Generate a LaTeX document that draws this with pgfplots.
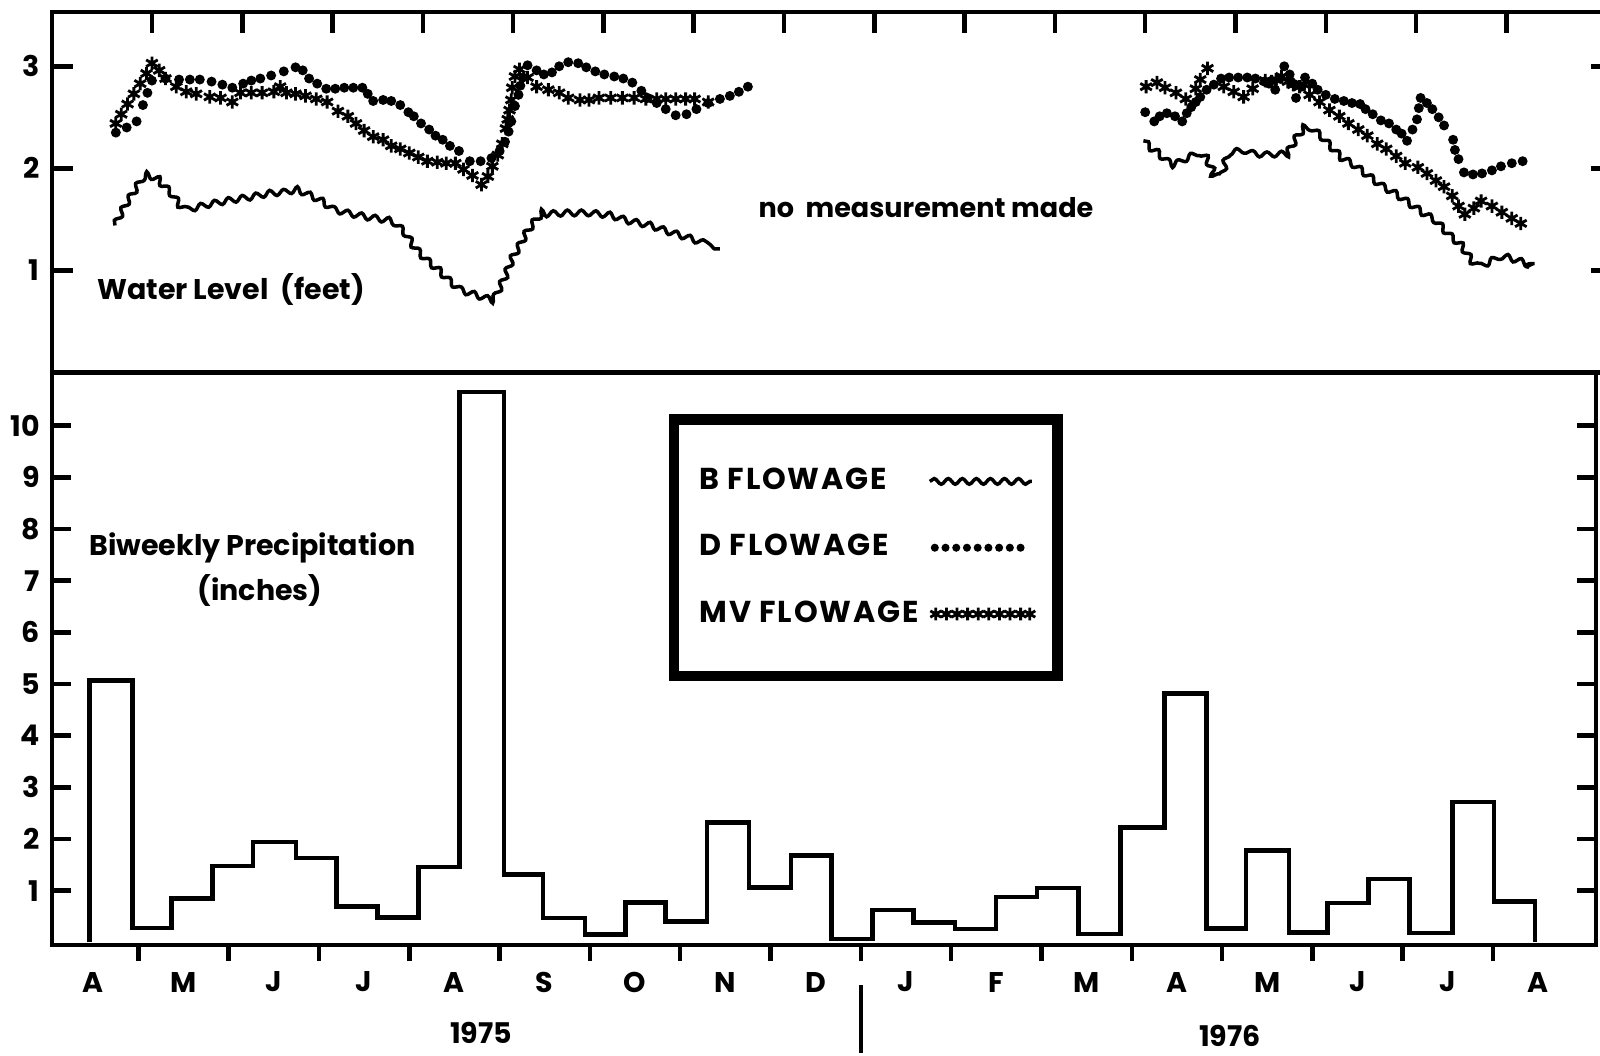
\documentclass[border=0pt]{standalone}
\usepackage{fontspec}
\setmainfont{Poppins}
\usepackage{pgfplots}
\pgfplotsset{compat=1.18}
\usetikzlibrary{decorations.pathmorphing}
\newcommand\lf{\fontsize{8.1}{9}\selectfont\bfseries}
\newcommand\nf{\fontsize{7.7}{9}\selectfont\bfseries}
\newcommand\gf{\fontsize{8.6}{9}\selectfont\bfseries\addfontfeatures{LetterSpace=6}}
\begin{document}
\begin{tikzpicture}
% ---------------- top panel: water level ----------------
\begin{axis}[
  at={(0.52cm,6.826cm)}, anchor=south west,
  width=15.60cm, height=3.602cm, scale only axis,
  xmin=-0.107, xmax=17.17, ymin=0, ymax=3.53,
  axis line style={line width=1.3pt},
  tick align=inside,
  xtick={1,2,3,4,5,6,7,8,9,10,11,12,13,14,15,16}, xticklabels={}, xtick pos=right,
  ytick={1,2,3}, ytick pos=both, yticklabel pos=left,
  major tick length=0.21cm,
  tick style={black, line width=1.3pt},
  tick label style={font=\lf},
  /pgf/number format/assume math mode=true,
]
% B flowage 1975
\addplot[black, line width=1pt, decorate, decoration={snake, amplitude=0.8pt, segment length=4pt}] coordinates {
(0.59,1.44) (0.64,1.53) (0.72,1.66) (0.80,1.77) (0.87,1.87) (0.95,1.92) (1.04,1.89) (1.13,1.79)
(1.23,1.70) (1.31,1.60) (1.40,1.54) (1.58,1.58) (1.81,1.62) (2.03,1.65) (2.26,1.69) (2.42,1.70)
(2.59,1.73) (2.72,1.68) (2.86,1.62) (3.00,1.53) (3.17,1.49) (3.34,1.46) (3.57,1.43) (3.68,1.39)
(3.77,1.31) (3.85,1.20) (3.94,1.10) (4.03,1.02) (4.14,0.94) (4.25,0.84) (4.36,0.76) (4.48,0.72)
(4.62,0.68) (4.73,0.65) (4.82,0.73) (4.90,0.88) (4.99,1.08) (5.07,1.20) (5.16,1.35) (5.24,1.45)
(5.33,1.54) (5.44,1.51) (5.67,1.52) (5.90,1.52) (6.13,1.50) (6.35,1.44) (6.58,1.40) (6.81,1.33)
(7.03,1.27) (7.23,1.21) (7.29,1.21)};
% B flowage 1976
\addplot[black, line width=1pt, decorate, decoration={snake, amplitude=0.8pt, segment length=4pt}] coordinates {
(11.98,2.27) (12.04,2.22) (12.11,2.18) (12.21,2.10) (12.31,2.05) (12.38,2.07) (12.46,2.11) (12.56,2.15)
(12.63,2.10) (12.69,2.00) (12.72,1.87) (12.77,1.85) (12.80,1.95) (12.84,2.07) (12.92,2.08) (13.03,2.04)
(13.15,2.03) (13.26,2.04) (13.38,2.04) (13.46,2.16) (13.53,2.27) (13.61,2.36) (13.70,2.36) (13.78,2.30)
(13.86,2.22) (13.99,2.10) (14.15,2.02) (14.30,1.92) (14.45,1.82) (14.61,1.74) (14.76,1.65) (14.92,1.55)
(15.07,1.47) (15.22,1.33) (15.37,1.22) (15.47,1.09) (15.53,1.05) (15.64,1.09) (15.75,1.14) (15.87,1.13)
(15.98,1.10) (16.10,1.06) (16.25,1.03)};
% D flowage 1975
\addplot[black, only marks, mark=*, mark size=1.2pt] coordinates {
(0.60,2.35) (0.72,2.40) (0.83,2.46) (0.90,2.62) (0.95,2.74) (1.00,2.86) (1.15,2.88) (1.30,2.87)
(1.42,2.87) (1.53,2.87) (1.66,2.85) (1.78,2.82) (1.89,2.79) (2.01,2.83) (2.10,2.86) (2.20,2.88)
(2.32,2.91) (2.46,2.95) (2.59,2.99) (2.67,2.96) (2.74,2.88) (2.83,2.83) (2.93,2.78) (3.03,2.78)
(3.13,2.79) (3.23,2.79) (3.33,2.79) (3.39,2.73) (3.45,2.66) (3.56,2.67) (3.65,2.66) (3.75,2.62)
(3.84,2.55) (3.90,2.51) (3.98,2.44) (4.07,2.38) (4.14,2.32) (4.22,2.28) (4.30,2.22) (4.40,2.17)
(4.52,2.07) (4.64,2.07) (4.76,2.10) (4.85,2.17) (4.91,2.26) (4.95,2.36) (4.98,2.46) (5.02,2.61)
(5.06,2.72) (5.08,2.81) (5.11,2.89) (5.16,3.01) (5.26,2.96) (5.34,2.92) (5.43,2.94) (5.51,3.00)
(5.61,3.04) (5.72,3.03) (5.81,2.99) (5.91,2.95) (6.01,2.92) (6.12,2.90) (6.22,2.88) (6.32,2.84)
(6.42,2.76) (6.49,2.69) (6.59,2.64) (6.69,2.58) (6.80,2.52) (6.92,2.53) (7.03,2.58) (7.16,2.64)
(7.29,2.68) (7.40,2.71) (7.50,2.75) (7.60,2.80)};
% D flowage 1976
\addplot[black, only marks, mark=*, mark size=1.2pt] coordinates {
(12.00,2.55) (12.10,2.46) (12.16,2.51) (12.24,2.54) (12.33,2.51) (12.41,2.46) (12.46,2.54) (12.51,2.60)
(12.56,2.65) (12.61,2.70) (12.68,2.77) (12.76,2.82) (12.84,2.88) (12.93,2.89) (13.03,2.89) (13.13,2.89)
(13.22,2.88) (13.32,2.85) (13.37,2.83) (13.44,2.77) (13.49,2.88) (13.54,3.00) (13.60,2.92) (13.64,2.83)
(13.67,2.69) (13.73,2.80) (13.77,2.89) (13.85,2.83) (13.91,2.77) (14.00,2.72) (14.10,2.68) (14.20,2.66)
(14.29,2.64) (14.38,2.63) (14.44,2.58) (14.52,2.53) (14.61,2.47) (14.70,2.44) (14.78,2.38) (14.84,2.34)
(14.90,2.27) (14.96,2.38) (15.01,2.48) (15.03,2.59) (15.05,2.69) (15.12,2.64) (15.18,2.58) (15.25,2.50)
(15.31,2.42) (15.41,2.28) (15.43,2.18) (15.47,2.09) (15.53,1.96) (15.63,1.94) (15.73,1.95) (15.84,1.98)
(15.94,2.02) (16.06,2.05) (16.18,2.07)};
% MV flowage 1975
\addplot[black, only marks, mark=asterisk, mark size=1.9pt, mark options={line width=0.8pt}] coordinates {
(0.60,2.44) (0.66,2.53) (0.73,2.63) (0.80,2.73) (0.87,2.83) (0.94,2.93) (1.00,3.03) (1.08,2.96)
(1.15,2.88) (1.27,2.80) (1.38,2.75) (1.49,2.73) (1.64,2.70) (1.76,2.69) (1.89,2.65) (1.98,2.74)
(2.10,2.74) (2.22,2.74) (2.35,2.75) (2.42,2.80) (2.49,2.74) (2.59,2.73) (2.70,2.71) (2.82,2.68)
(2.94,2.65) (3.06,2.56) (3.17,2.51) (3.26,2.44) (3.35,2.37) (3.45,2.31) (3.56,2.28) (3.65,2.22)
(3.75,2.19) (3.85,2.15) (3.95,2.11) (4.05,2.07) (4.16,2.06) (4.26,2.05) (4.36,2.05) (4.45,1.99)
(4.55,1.93) (4.65,1.84) (4.72,1.92) (4.77,2.02) (4.83,2.13) (4.88,2.24) (4.92,2.39) (4.94,2.48)
(4.96,2.57) (4.98,2.67) (4.99,2.79) (5.02,2.90) (5.07,2.97) (5.16,2.89) (5.26,2.80) (5.39,2.77)
(5.51,2.74) (5.61,2.69) (5.74,2.67) (5.84,2.67) (5.95,2.69) (6.08,2.69) (6.21,2.69) (6.34,2.69)
(6.47,2.68) (6.59,2.68) (6.69,2.68) (6.80,2.68) (6.91,2.68) (7.01,2.68) (7.16,2.65)};
% MV flowage 1976
\addplot[black, only marks, mark=asterisk, mark size=1.9pt, mark options={line width=0.8pt}] coordinates {
(12.01,2.80) (12.13,2.84) (12.22,2.79) (12.34,2.74) (12.45,2.68) (12.56,2.78) (12.61,2.87) (12.69,2.98)
(12.87,2.80) (12.98,2.75) (13.09,2.70) (13.19,2.78) (13.33,2.86) (13.40,2.85) (13.45,2.87) (13.51,2.90)
(13.58,2.85) (13.64,2.82) (13.71,2.80) (13.76,2.82) (13.82,2.72) (13.93,2.65) (14.04,2.57) (14.15,2.51)
(14.25,2.44) (14.36,2.38) (14.46,2.32) (14.57,2.24) (14.67,2.19) (14.78,2.12) (14.88,2.05) (15.02,2.01)
(15.12,1.95) (15.22,1.88) (15.31,1.82) (15.40,1.73) (15.47,1.63) (15.54,1.55) (15.64,1.61) (15.72,1.68)
(15.84,1.63) (15.95,1.57) (16.06,1.51) (16.16,1.46)};
\end{axis}
% ---------------- bottom panel: precipitation ----------------
\begin{axis}[
  at={(0.52cm,1.10cm)}, anchor=south west,
  width=15.44cm, height=5.726cm, scale only axis,
  xmin=0.045, xmax=17.14, ymin=-0.05, ymax=11.03,
  axis line style={line width=1.3pt},
  tick align=inside,
  xtick={0.5,1.5,2.5,3.5,4.5,5.5,6.5,7.5,8.5,9.5,10.5,11.5,12.5,13.5,14.5,15.5,16.5},
  xticklabels={A,M,J,J,A,S,O,N,D,J,F,M,A,M,J,J,A},
  major x tick style={draw=none},
  minor xtick={1,2,3,4,5,6,7,8,9,10,11,12,13,14,15,16},
  minor tick length=0.16cm,
  minor x tick style={yshift=-0.16cm, line width=1.3pt, black},
  xtick pos=left,
  xticklabel style={anchor=center, yshift=-0.37cm},
  ytick={1,2,3,4,5,6,7,8,9,10}, ytick pos=both, yticklabel pos=left,
  major tick length=0.19cm,
  tick style={black, line width=1.3pt},
  tick label style={font=\lf},
  /pgf/number format/assume math mode=true,
  clip=false,
  legend style={at={(rel axis cs:0.3995,0.927)}, anchor=north west, draw=black, line width=3pt,
    inner xsep=0.22cm, inner ysep=0.45cm, row sep=0.325cm, column sep=0.06cm, font=\gf,
    nodes={inner sep=1pt}},
  legend cell align=left, legend plot pos=right,
]
\addplot[const plot, black, line width=1.3pt, mark=none, forget plot] coordinates {
(0.463,0) (0.463,5.07) (0.938,0.28) (1.367,0.85) (1.819,1.48) (2.271,1.94) (2.746,1.63) (3.198,0.70)
(3.650,0.48) (4.102,1.46) (4.554,10.65) (5.051,1.32) (5.480,0.47) (5.944,0.15) (6.395,0.77) (6.836,0.40)
(7.299,2.32) (7.763,1.06) (8.226,1.68) (8.678,0.07) (9.130,0.63) (9.582,0.39) (10.045,0.26) (10.497,0.88)
(10.949,1.05) (11.412,0.16) (11.876,2.22) (12.362,4.82) (12.825,0.27) (13.266,1.78) (13.740,0.19) (14.169,0.76)
(14.621,1.23) (15.073,0.18) (15.548,2.72) (16.011,0.79) (16.463,0)};
\addlegendimage{legend image code/.code={\draw[black, line width=1pt, decorate, decoration={snake, amplitude=0.8pt, segment length=4pt}] (0cm,0cm) -- (1.02cm,0cm);}}
\addlegendentry{B FLOWAGE}
\addlegendimage{legend image code/.code={\draw[black, line width=2.3pt, line cap=round, dash pattern=on 0pt off 3.05pt] (0.05cm,0cm) -- (1.0cm,0cm);}}
\addlegendentry{D FLOWAGE}
\addlegendimage{legend image code/.code={\draw[black, line width=0.8pt] plot[only marks, mark=asterisk, mark size=1.8pt] coordinates {(0.06cm,0cm) (0.166cm,0cm) (0.272cm,0cm) (0.378cm,0cm) (0.484cm,0cm) (0.59cm,0cm) (0.696cm,0cm) (0.802cm,0cm) (0.908cm,0cm) (1.0cm,0cm)};}}
\addlegendentry{MV FLOWAGE}
\draw[black, line width=1.3pt] (axis cs:9,-0.05) ++(0pt,-0.40cm) -- ++(0pt,-0.68cm);
\end{axis}
% ---------------- free text ----------------
\node[font=\lf] at (2.31,7.66) {Water Level\ \ (feet)};
\node[font=\nf] at (9.26,8.47) {no\ \ measurement made};
\node[font=\lf] at (2.525,5.07) {Biweekly Precipitation};
\node[font=\lf] at (2.60,4.65) {(inches)};
\node[font=\lf] at (4.81,0.22) {1975};
\node[font=\lf] at (12.30,0.19) {1976};
\pgfresetboundingbox
\useasboundingbox (0,0) rectangle (16,10.55);
\end{tikzpicture}
\end{document}
